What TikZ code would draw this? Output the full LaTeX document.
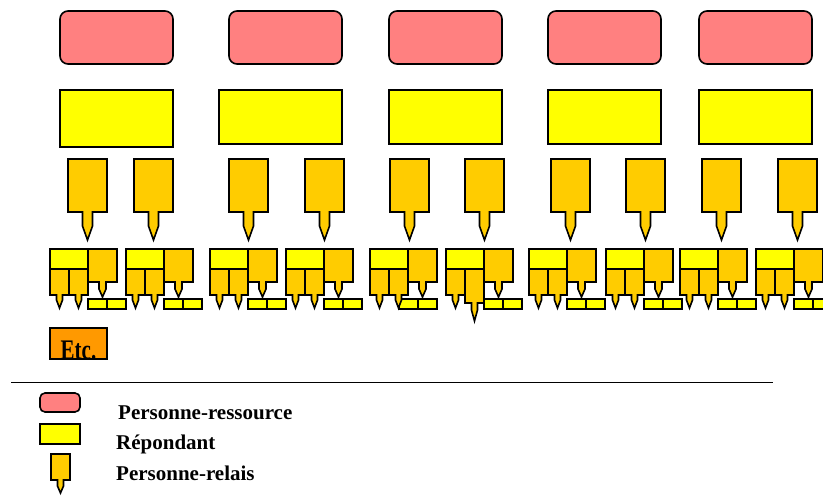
\documentclass[tikz,border=0pt]{standalone}
\usepackage{fontspec}
\setmainfont{Liberation Serif}
\usepackage{xcolor}
\usepackage{tikz}
\usetikzlibrary{positioning, calc}

\definecolor{ressourcefill}{HTML}{FF8080}
\definecolor{repondantfill}{HTML}{FFFF00}
\definecolor{relaisfill}{HTML}{FFCC00}
\definecolor{etcfill}{HTML}{FF9900}

% tail under a relais node: node, half width, straight part, point
\newcommand{\relaistail}[4]{%
  \fill[relaisfill] ($(#1.south)+(-#2,-1)$) -- ($(#1.south)+(-#2,#3)$)
    -- ($(#1.south)+(0,#3+#4)$) -- ($(#1.south)+(#2,#3)$) -- ($(#1.south)+(#2,-1)$) -- cycle;
  \draw[line width=1.6pt] ($(#1.south)+(-#2,-0.8)$) -- ($(#1.south)+(-#2,#3)$)
    -- ($(#1.south)+(0,#3+#4)$) -- ($(#1.south)+(#2,#3)$) -- ($(#1.south)+(#2,-0.8)$);
}

\begin{document}
\begin{tikzpicture}[
    x=1pt, y=-1pt,
    box/.style={draw, line width=1.6pt, anchor=north west, inner sep=0pt, outer sep=0pt},
    ressource/.style={box, fill=ressourcefill, rounded corners=8pt, minimum width=113pt, minimum height=53pt},
    repondant/.style={box, fill=repondantfill, minimum width=#1, minimum height=54pt},
    relais/.style={box, fill=relaisfill, minimum width=39pt, minimum height=53pt},
    smallrel/.style={box, fill=relaisfill, minimum width=19pt, minimum height=#1},
    smallrep/.style={box, fill=repondantfill, minimum width=19pt, minimum height=10pt},
    etcbox/.style={box, fill=etcfill, minimum width=57pt, minimum height=31pt},
    legtext/.style={anchor=base west, inner sep=0pt, font=\fontsize{21}{25}\selectfont\bfseries},
  ]
  \useasboundingbox (0,0) rectangle (823,502);
  \clip (0,0) rectangle (823,502);

  % ---- Personnes-ressources ----
  \node[ressource] (res1) at (60,11) {};
  \node[ressource] (res2) at (229,11) {};
  \node[ressource] (res3) at (389,11) {};
  \node[ressource] (res4) at (548,11) {};
  \node[ressource] (res5) at (699,11) {};

  % ---- Repondants ----
  \node[repondant=113pt, minimum height=57pt] (rep1) at (60,90) {};
  \node[repondant=123pt] (rep2) at (219,90) {};
  \node[repondant=113pt] (rep3) at (389,90) {};
  \node[repondant=113pt] (rep4) at (548,90) {};
  \node[repondant=113pt] (rep5) at (699,90) {};

  % ---- Personnes-relais ----
  \node[relais] (rel1a) at (68,159) {};
  \node[relais] (rel1b) at (134,159) {};
  \node[relais] (rel2a) at (229,159) {};
  \node[relais] (rel2b) at (305,159) {};
  \node[relais] (rel3a) at (390,159) {};
  \node[relais] (rel3b) at (465,159) {};
  \node[relais] (rel4a) at (551,159) {};
  \node[relais] (rel4b) at (626,159) {};
  \node[relais] (rel5a) at (702,159) {};
  \node[relais] (rel5b) at (778,159) {};
  \foreach \r in {1a,1b,2a,2b,3a,3b,4a,4b,5a,5b}
    \relaistail{rel\r}{5}{14}{14};

  % ---- Next level (x / name / offset / height / tail) ----
  \foreach \x/\n/\s/\h/\ts/\tp in {50/a/38/26/5/8, 126/b/38/26/5/8, 210/c/38/26/5/8,
      286/d/38/26/5/8, 370/e/29/26/5/8, 446/f/38/34/7/11, 529/g/38/26/5/8,
      606/h/38/26/5/8, 680/i/38/26/5/8, 756/j/38/26/5/8}{
    \node[smallrep] (sya\n) at (\x+\s,299) {};
    \node[smallrep, below right=0pt of sya\n.north east] (syb\n) {};
    \node[repondant=38pt, minimum height=20pt] (top\n) at (\x,249) {};
    \node[smallrel=26pt, below right=0pt of top\n.south west] (ra\n) {};
    \node[smallrel=\h pt, below right=0pt of ra\n.north east] (rb\n) {};
    \node[smallrel=33pt, minimum width=29pt, below right=0pt of top\n.north east] (rr\n) {};
    \relaistail{ra\n}{3}{5}{8}
    \relaistail{rb\n}{3}{\ts}{\tp}
    \relaistail{rr\n}{3.5}{7}{8}
  }

  % ---- Etc. ----
  \node[etcbox] (etc) at (50,328) {};
  \begin{scope}
    \clip (etc.north west) rectangle (etc.south east);
    \node[legtext, anchor=base, yscale=1.35] (etclabel) at ($(etc.south)+(0,1)$) {Etc.};
  \end{scope}
  \draw[line width=1.6pt] (etc.north west) rectangle (etc.south east);

  % ---- Separator ----
  \coordinate (sepL) at (11,383);
  \coordinate (sepR) at (773,383);
  \draw[line width=1pt] (sepL) -- (sepR);

  % ---- Legend ----
  \node[box, fill=ressourcefill, rounded corners=5pt, minimum width=40pt, minimum height=19pt] (legres) at (40,393) {};
  \node[box, fill=repondantfill, minimum width=40pt, minimum height=20pt] (legrep) at (40,424) {};
  \node[smallrel=26pt] (legrel) at (51,454) {};
  \relaistail{legrel}{3}{6}{7}
  \node[legtext] (txtres) at (118,420) {Personne-ressource};
  \node[legtext] (txtrep) at (116,450) {Répondant};
  \node[legtext] (txtrel) at (116,481) {Personne-relais};

\end{tikzpicture}
\end{document}
